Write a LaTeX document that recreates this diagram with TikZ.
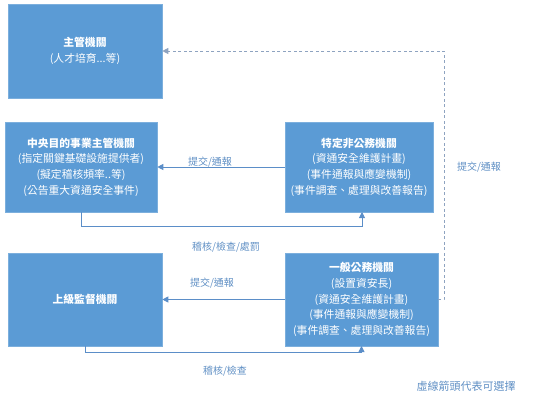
\documentclass[tikz,border=0pt]{standalone}
\usepackage{fontspec}
\setmainfont{Noto Sans CJK TC}
\usetikzlibrary{arrows.meta}
\definecolor{boxblue}{HTML}{5B9BD5}
\definecolor{lineblue}{HTML}{5B8EC8}
\definecolor{labelblue}{HTML}{5F8FC4}
\definecolor{dashgray}{HTML}{8EA3C0}
\tikzset{
  x=1pt, y=1pt,
  box/.style={draw=boxblue!80!white, line width=0.6pt, fill=boxblue, text=white, align=center,
    font=\fontsize{10.8}{15.6}\selectfont, inner sep=0pt},
  arr/.style={draw=lineblue, line width=0.9pt, -{Triangle[length=6pt,width=6pt]}},
  dasharr/.style={draw=dashgray, line width=0.9pt, dash pattern=on 3pt off 2.5pt, -{Triangle[length=6pt,width=6pt]}},
  lbl/.style={text=labelblue, font=\fontsize{10}{12}\selectfont, inner sep=0pt}
}
\begin{document}
\begin{tikzpicture}
\useasboundingbox (0,0) rectangle (546,-405);
\node[box, minimum width=154, minimum height=94] (b1) at (85,-51)
  {\textbf{主管機關}\\(人才培育...等)};
\node[box, minimum width=152, minimum height=90] (b2) at (81,-167)
  {\textbf{中央目的事業主管機關}\\(指定關鍵基礎設施提供者)\\(擬定稽核頻率..等)\\(公告重大資通安全事件)};
\node[box, minimum width=148, minimum height=90] (b3) at (359,-167)
  {\textbf{特定非公務機關}\\(資通安全維護計畫)\\(事件通報與應變機制)\\(事件調查、處理與改善報告)};
\node[box, minimum width=154, minimum height=93] (b4) at (85,-299.5)
  {\textbf{上級監督機關}};
\node[box, minimum width=153, minimum height=93] (b5) at (361.5,-299.5)
  {\textbf{一般公務機關}\\(設置資安長)\\(資通安全維護計畫)\\(事件通報與應變機制)\\(事件調查、處理與改善報告)};

\coordinate (d1) at (444,-51);
\coordinate (up1) at (362,-212);
\coordinate (up2) at (361.5,-346);

\draw[arr] (b3.west) -- (b2.east);
\draw[arr] (b2.south) -- ++(0,-14) -| (up1);
\draw[arr] (b5.west) -- (b4.east);
\draw[arr] (b4.south) -- ++(0,-6) -| (up2);
\draw[dasharr] (b5.east) -| (d1) -- (b1.east);

\node[lbl] (l1) at (210,-162) {提交/通報};
\node[lbl] (l2) at (226,-247) {稽核/檢查/處罰};
\node[lbl] (l3) at (212,-283) {提交/通報};
\node[lbl] (l4) at (225,-371) {稽核/檢查};
\node[lbl] (l5) at (479,-167) {提交/通報};
\node[lbl, font=\fontsize{11}{13}\selectfont] (l6) at (466,-386) {虛線箭頭代表可選擇};
\end{tikzpicture}
\end{document}
